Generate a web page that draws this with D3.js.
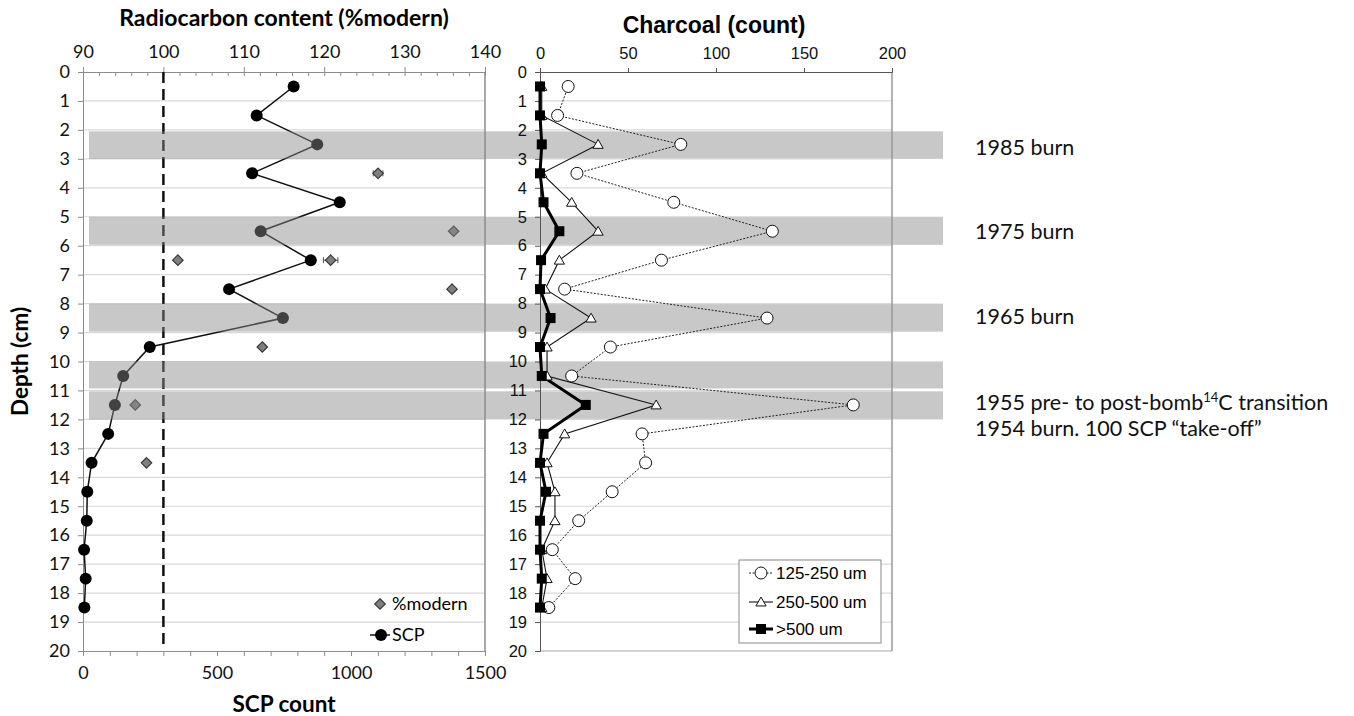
<!DOCTYPE html>
<meta charset="utf-8">
<style>
body { margin: 0; background: #fff; }
.cal { font-family: Lato, "Open Sans", sans-serif; }
.ari { font-family: "Liberation Sans", Arial, sans-serif; }
.grid line { stroke: #d9d9d9; stroke-width: 1.2px; }
.axl path, .axl line { stroke: #8c8c8c; }
.axr path, .axr line { stroke: #555; }
.axl text { font-family: Lato, sans-serif; font-size: 18px; fill: #111; }
.axr text { font-family: "Liberation Sans", Arial, sans-serif; font-size: 16.5px; fill: #111; }
</style>
<body>
<script src="https://d3js.org/d3.v7.min.js"></script>
<script>
// depth midpoints (cm)
var depth = [0.5,1.5,2.5,3.5,4.5,5.5,6.5,7.5,8.5,9.5,10.5,11.5,12.5,13.5,14.5,15.5,16.5,17.5,18.5];
// SCP count
var scp = [786,648,874,631,958,663,850,545,746,249,150,119,94,32,16,14,4,10,5];
// radiocarbon %modern
var pmDepth = [3.5,5.5,6.5,6.5,7.5,9.5,11.5,13.5];
var pmValue = [126.7,136.1,101.8,120.8,135.9,112.3,96.5,97.9];
var pmErr   = [0.6,0.3,0.3,0.9,0.3,0.3,0.3,0.3];
// charcoal counts
var c125 = [16,10,80,21,76,132,69,14,129,40,18,178,58,60,41,22,7,20,5];
var c250 = [1,1,33,1,18,33,11,3,29,4,4,66,14,4,8.5,8.5,1,4,1];
var c500 = [0,0,1,0,2,11,0.6,0,6,0,1,26,2,0,3.4,0,0,1,0];
// shaded burn intervals
var bandTop = [2.05,5,8,10,11.03];
var bandBot = [3,5.97,8.97,10.93,12];
// notes
var noteDepth = [2.62,5.53,8.47,11.45,12.32];
var noteText = ["1985 burn","1975 burn","1965 burn","1955 pre- to post-bomb","1954 burn. 100 SCP \u201ctake-off\u201d"];

var depthTicks = d3.range(0,21);
var pmTicks = [90,100,110,120,130,140];
var scpTicks = [0,500,1000,1500];
var charTicks = [0,50,100,150,200];

var W = 1354, H = 716;
var svg = d3.select("body").append("svg").attr("width", W).attr("height", H);

var y = d3.scaleLinear().domain([0,20]).range([72,651]);
var xPm = d3.scaleLinear().domain([90,140]).range([83,485]);
var xScp = d3.scaleLinear().domain([0,1500]).range([83,485]);
var xCh = d3.scaleLinear().domain([0,200]).range([540,892]);
var fmt = d3.format("d");

// ---------- left panel ----------
var L = svg.append("g");

L.append("g").attr("class","grid").selectAll("line")
  .data(depthTicks.slice(1,20)).enter().append("line")
  .attr("x1", xScp(0)).attr("x2", xScp(1500))
  .attr("y1", d => y(d)).attr("y2", d => y(d));

L.append("line").attr("x1", xScp(1500)).attr("x2", xScp(1500))
  .attr("y1", y(0)).attr("y2", y(20)).attr("stroke","#8c8c8c").attr("stroke-width",1.5);

// top axis %modern
L.append("g").attr("class","axl").attr("transform","translate(0," + y(0) + ")")
  .call(d3.axisTop(xPm).tickValues(d3.range(90,141,2)).tickSize(-4).tickFormat(""))
  .call(g => g.select(".domain").remove());
L.append("g").attr("class","axl").attr("transform","translate(0," + y(0) + ")")
  .call(d3.axisTop(xPm).tickValues(pmTicks).tickSize(5).tickPadding(9).tickFormat(fmt));

// bottom axis SCP
L.append("g").attr("class","axl").attr("transform","translate(0," + y(20) + ")")
  .call(d3.axisBottom(xScp).tickValues(d3.range(0,1501,100)).tickSize(5).tickFormat(""));
L.append("g").attr("class","axl").attr("transform","translate(0," + y(20) + ")")
  .call(d3.axisBottom(xScp).tickValues(scpTicks).tickSize(5).tickPadding(10).tickFormat(fmt))
  .call(g => g.select(".domain").remove());

// depth axis
L.append("g").attr("class","axl").attr("transform","translate(" + xScp(0) + ",0)")
  .call(d3.axisLeft(y).tickValues(depthTicks).tickSize(5).tickPadding(8));

// 100 %modern reference
L.append("line").attr("x1", xPm(100)).attr("x2", xPm(100))
  .attr("y1", y(0)).attr("y2", y(19.85))
  .attr("stroke","#111").attr("stroke-width",2.5).attr("stroke-dasharray","11,6");

// %modern error bars + diamonds
var pm = pmDepth.map((d,i) => ({d:d, v:pmValue[i], e:pmErr[i]}));
var eb = L.append("g").attr("stroke","#555").attr("stroke-width",1);
eb.selectAll(".eb").data(pm).enter().append("path")
  .attr("d", p => "M" + xPm(p.v - p.e) + "," + y(p.d) + "H" + xPm(p.v + p.e) +
    "M" + xPm(p.v - p.e) + "," + (y(p.d) - 3) + "v6" +
    "M" + xPm(p.v + p.e) + "," + (y(p.d) - 3) + "v6");
L.selectAll(".dia").data(pm).enter().append("path")
  .attr("d", d3.symbol().type(d3.symbolDiamond2).size(70))
  .attr("transform", p => "translate(" + xPm(p.v) + "," + y(p.d) + ")")
  .attr("fill","#7f7f7f").attr("stroke","#3a3a3a").attr("stroke-width",1.2);

// SCP line
var scpData = depth.map((d,i) => ({d:d, v:scp[i]}));
L.append("path").datum(scpData)
  .attr("fill","none").attr("stroke","#111").attr("stroke-width",1.5)
  .attr("d", d3.line().x(p => xScp(p.v)).y(p => y(p.d)));
L.selectAll(".scp").data(scpData).enter().append("circle")
  .attr("cx", p => xScp(p.v)).attr("cy", p => y(p.d)).attr("r",6).attr("fill","#000");

// left legend
L.append("path").attr("d", d3.symbol().type(d3.symbolDiamond2).size(70))
  .attr("transform","translate(380,604)")
  .attr("fill","#7f7f7f").attr("stroke","#3a3a3a").attr("stroke-width",1.2);
L.append("text").attr("class","cal").attr("x",392).attr("y",610)
  .attr("font-size",18).text("%modern");
L.append("line").attr("x1",370).attr("x2",390).attr("y1",635).attr("y2",635)
  .attr("stroke","#111").attr("stroke-width",1.5);
L.append("circle").attr("cx",381).attr("cy",635).attr("r",6).attr("fill","#000");
L.append("text").attr("class","cal").attr("x",392).attr("y",641)
  .attr("font-size",18).text("SCP");

// left titles
L.append("text").attr("class","cal").attr("x",284).attr("y",26)
  .attr("text-anchor","middle").attr("font-size",23).attr("font-weight","bold")
  .text("Radiocarbon content (%modern)");
L.append("text").attr("class","cal").attr("x",284).attr("y",712)
  .attr("text-anchor","middle").attr("font-size",22.5).attr("font-weight","bold")
  .text("SCP count");
L.append("text").attr("class","cal")
  .attr("transform","translate(28," + y(10) + ") rotate(-90)")
  .attr("text-anchor","middle").attr("font-size",22.5).attr("font-weight","bold")
  .text("Depth (cm)");

// ---------- shaded burn bands ----------
svg.append("g").selectAll("rect").data(bandTop).enter().append("rect")
  .attr("x",89).attr("width",943 - 89)
  .attr("y", (d,i) => y(d)).attr("height", (d,i) => y(bandBot[i]) - y(d))
  .attr("fill","#8a8a8a").attr("fill-opacity",0.47);

// ---------- right panel ----------
var R = svg.append("g");

R.append("g").attr("class","grid").selectAll("line")
  .data(depthTicks.slice(1,21)).enter().append("line")
  .attr("x1", xCh(0)).attr("x2", xCh(200))
  .attr("y1", d => y(d)).attr("y2", d => y(d))
  .style("stroke", d => d == 20 ? "#aaa" : null);
R.append("line").attr("x1", xCh(200)).attr("x2", xCh(200))
  .attr("y1", y(0)).attr("y2", y(20)).attr("stroke","#999").attr("stroke-width",1.5);

R.append("g").attr("class","axr").attr("transform","translate(0," + y(0) + ")")
  .call(d3.axisTop(xCh).tickValues(charTicks).tickSize(4).tickPadding(9));
R.append("g").attr("class","axr").attr("transform","translate(" + xCh(0) + ",0)")
  .call(d3.axisLeft(y).tickValues(depthTicks).tickSize(5).tickPadding(8));

function series(vals) { return depth.map((d,i) => ({d:d, v:vals[i]})); }
var lineCh = d3.line().x(p => xCh(p.v)).y(p => y(p.d));

// 125-250 um
R.append("path").datum(series(c125)).attr("d", lineCh)
  .attr("fill","none").attr("stroke","#222").attr("stroke-width",1).attr("stroke-dasharray","2,1.5");
// 250-500 um
R.append("path").datum(series(c250)).attr("d", lineCh)
  .attr("fill","none").attr("stroke","#111").attr("stroke-width",1.1);
// >500 um
R.append("path").datum(series(c500)).attr("d", lineCh)
  .attr("fill","none").attr("stroke","#000").attr("stroke-width",3);

R.selectAll(".c1").data(series(c125)).enter().append("circle")
  .attr("cx", p => xCh(p.v)).attr("cy", p => y(p.d)).attr("r",6)
  .attr("fill","#fff").attr("stroke","#111").attr("stroke-width",1);
var tri = d3.symbol().type(d3.symbolTriangle2).size(75);
R.selectAll(".c2").data(series(c250)).enter().append("path")
  .attr("d", tri).attr("transform", p => "translate(" + xCh(p.v) + "," + (y(p.d) + 1) + ")")
  .attr("fill","#fff").attr("stroke","#111").attr("stroke-width",1);
R.selectAll(".c3").data(series(c500)).enter().append("rect")
  .attr("x", p => xCh(p.v) - 5).attr("y", p => y(p.d) - 5)
  .attr("width",10).attr("height",10).attr("fill","#000");

// right legend
var lg = R.append("g").attr("transform","translate(739,560)");
lg.append("rect").attr("width",142).attr("height",83)
  .attr("fill","#fff").attr("stroke","#888").attr("stroke-width",1);
var lgY = [13, 42, 69];
var lgTxt = ["125-250 um","250-500 um",">500 um"];
lg.append("line").attr("x1",10).attr("x2",34).attr("y1",lgY[0]).attr("y2",lgY[0])
  .attr("stroke","#222").attr("stroke-dasharray","2,1.5");
lg.append("circle").attr("cx",22).attr("cy",lgY[0]).attr("r",6)
  .attr("fill","#fff").attr("stroke","#111");
lg.append("line").attr("x1",10).attr("x2",34).attr("y1",lgY[1]).attr("y2",lgY[1])
  .attr("stroke","#111").attr("stroke-width",1.1);
lg.append("path").attr("d", tri).attr("transform","translate(22," + (lgY[1] + 1) + ")")
  .attr("fill","#fff").attr("stroke","#111");
lg.append("line").attr("x1",10).attr("x2",34).attr("y1",lgY[2]).attr("y2",lgY[2])
  .attr("stroke","#000").attr("stroke-width",3);
lg.append("rect").attr("x",17).attr("y",lgY[2] - 5).attr("width",10).attr("height",10).attr("fill","#000");
lg.selectAll("text").data(lgTxt).enter().append("text").attr("class","ari")
  .attr("x",37).attr("y",(d,i) => lgY[i] + 6).attr("font-size",17).text(d => d);

R.append("text").attr("class","ari").attr("x",714).attr("y",33)
  .attr("text-anchor","middle").attr("font-size",23).attr("font-weight","bold")
  .text("Charcoal (count)");

// ---------- notes ----------
var notes = svg.append("g").attr("class","cal").attr("font-size",21.5).attr("fill","#111");
noteText.forEach(function(t, i) {
  var tx = notes.append("text").attr("x",975).attr("y", y(noteDepth[i]) + 7).text(t);
  if (i == 3) {
    tx.append("tspan").attr("font-size",13).attr("dy",-8).text("14");
    tx.append("tspan").attr("dy",8).text("C transition");
  }
});
</script>
</body>
